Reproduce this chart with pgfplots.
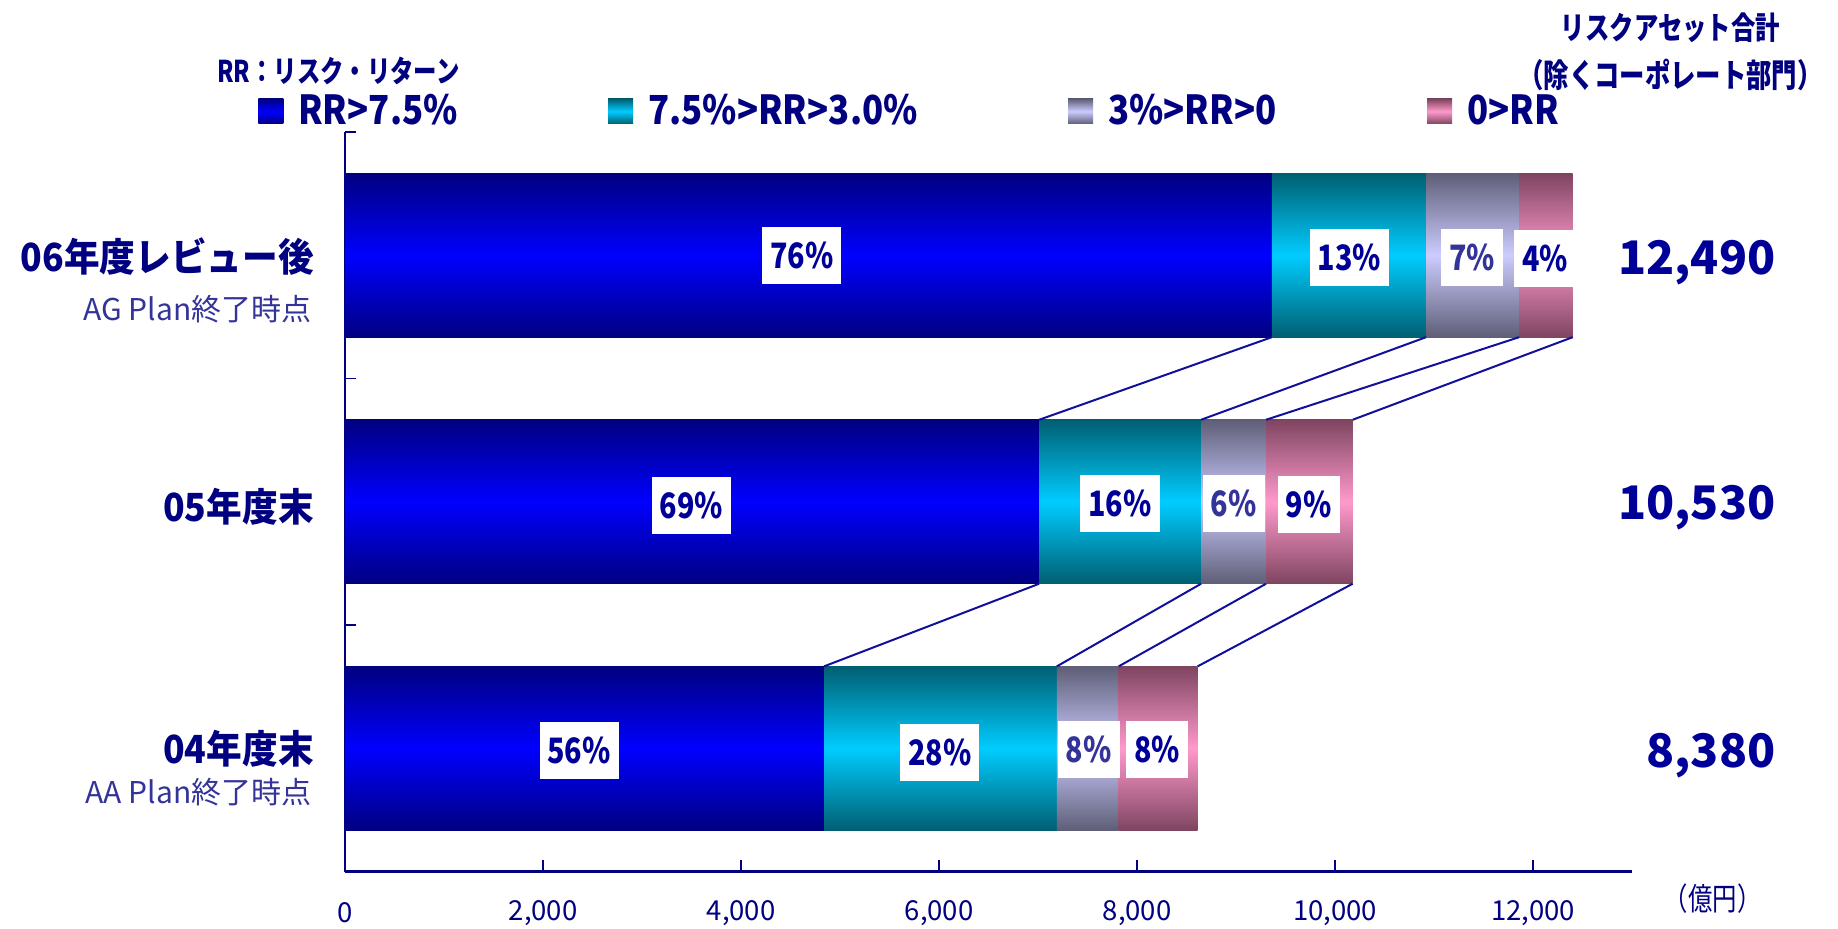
\documentclass[border=0pt]{standalone}
\usepackage{fontspec}
\setmainfont{Noto Sans CJK JP}
\newfontfamily\condf{Noto Sans CJK JP}[FakeStretch=0.78]
\newfontfamily\pctf{Noto Sans CJK JP}[FakeStretch=0.82]
\newfontfamily\legf{Noto Sans CJK JP}[FakeStretch=0.87]
\newfontfamily\catf{Noto Sans CJK JP}[FakeStretch=0.92]
\usepackage{pgfplots}
\pgfplotsset{compat=1.18}
\definecolor{navyc}{HTML}{000080}
\definecolor{txtc}{HTML}{000099}
\definecolor{subc}{HTML}{333399}
\definecolor{linec}{HTML}{10109A}
\definecolor{cAd}{HTML}{000080}\definecolor{cAm}{HTML}{0000FF}
\definecolor{cBd}{HTML}{005F72}\definecolor{cBm}{HTML}{00CCFF}
\definecolor{cCd}{HTML}{5E5E78}\definecolor{cCm}{HTML}{CCCCFF}
\definecolor{cDd}{HTML}{7E4560}\definecolor{cDm}{HTML}{FF99CC}
\pgfplotsset{
  pct/.style={only marks, mark=text, text mark as node=true,
    text mark style={draw=none, fill=white, text=#1, anchor=center,
      font=\pctf\bfseries\fontsize{14}{14}\selectfont,
      inner xsep=3.2pt, inner ysep=6.2pt, text height=10.3pt, text depth=0pt}},
  pct/.default=txtc,
  barA/.style={top color=cAd, bottom color=cAd, middle color=cAm, draw=none},
  barB/.style={top color=cBd, bottom color=cBd, middle color=cBm, draw=none},
  barC/.style={top color=cCd, bottom color=cCd, middle color=cCm, draw=none},
  barD/.style={top color=cDd, bottom color=cDd, middle color=cDm, draw=none},
  geom/.style={scale only axis, width=514.8pt, height=295.9pt,
    at={(138.04pt,22.69pt)}, anchor=south west,
    xmin=0, xmax=13000, ymin=-0.5, ymax=2.5}
}
\begin{document}
\begin{tikzpicture}
\path[use as bounding box] (0,0) rectangle (735.2pt,371.35pt);
\begin{axis}[geom,
  axis x line*=bottom, axis y line*=left,
  axis line style={navyc},
  x axis line style={line width=1.3pt},
  y axis line style={line width=0.6pt},
  xtick={0,2000,4000,6000,8000,10000,12000},
  ytick={0.5,1.5,2.5}, yticklabels={},
  scaled x ticks=false,
  /pgf/number format/1000 sep={,},
  /pgf/number format/assume math mode=true,
  xticklabel style={font=\fontsize{11}{13}\selectfont, text=navyc, anchor=center, yshift=-16.6pt},
  tick align=inside, major tick length=4.5pt,
  tick style={navyc, line width=0.6pt},
  legend columns=4,
  legend style={at={(-0.0678,1.0277)}, anchor=west, draw=none, fill=none,
    inner sep=0pt, text=navyc, font=\legf\bfseries\fontsize{16}{18}\selectfont,
    nodes={inner sep=0pt},
    /tikz/every odd column/.append style={column sep=6pt},
    /tikz/every even column/.append style={column sep=60.2pt}},
  legend image code/.code={\path[#1] (0pt,-5pt) rectangle (10pt,5pt);},
]
% series RR>7.5%
\addplot[barA] coordinates {(0,1.6675) (9361,1.6675) (9361,2.3325) (0,2.3325)};
\addplot[barA, forget plot] coordinates {(0,0.6675) (7010,0.6675) (7010,1.3325) (0,1.3325)};
\addplot[barA, forget plot] coordinates {(0,-0.3325) (4838,-0.3325) (4838,0.3325) (0,0.3325)};
% series 7.5%>RR>3.0%
\addplot[barB] coordinates {(9361,1.6675) (10919,1.6675) (10919,2.3325) (9361,2.3325)};
\addplot[barB, forget plot] coordinates {(7010,0.6675) (8646,0.6675) (8646,1.3325) (7010,1.3325)};
\addplot[barB, forget plot] coordinates {(4838,-0.3325) (7189,-0.3325) (7189,0.3325) (4838,0.3325)};
% series 3%>RR>0
\addplot[barC] coordinates {(10919,1.6675) (11859,1.6675) (11859,2.3325) (10919,2.3325)};
\addplot[barC, forget plot] coordinates {(8646,0.6675) (9302,0.6675) (9302,1.3325) (8646,1.3325)};
\addplot[barC, forget plot] coordinates {(7189,-0.3325) (7814,-0.3325) (7814,0.3325) (7189,0.3325)};
% series 0>RR
\addplot[barD] coordinates {(11859,1.6675) (12400,1.6675) (12400,2.3325) (11859,2.3325)};
\addplot[barD, forget plot] coordinates {(9302,0.6675) (10177,0.6675) (10177,1.3325) (9302,1.3325)};
\addplot[barD, forget plot] coordinates {(7814,-0.3325) (8611,-0.3325) (8611,0.3325) (7814,0.3325)};
\legend{RR>7.5\%, 7.5\%>RR>3.0\%, 3\%>RR>0, 0>RR}
\end{axis}
\begin{axis}[geom, hide axis, clip=false]
% connector lines
\addplot[linec, line width=0.8pt] coordinates {(9361,1.6675) (7010,1.3325)};
\addplot[linec, line width=0.8pt] coordinates {(10919,1.6675) (8646,1.3325)};
\addplot[linec, line width=0.8pt] coordinates {(11859,1.6675) (9302,1.3325)};
\addplot[linec, line width=0.8pt] coordinates {(12400,1.6675) (10177,1.3325)};
\addplot[linec, line width=0.8pt] coordinates {(7010,0.6675) (4838,0.3325)};
\addplot[linec, line width=0.8pt] coordinates {(8646,0.6675) (7189,0.3325)};
\addplot[linec, line width=0.8pt] coordinates {(9302,0.6675) (7814,0.3325)};
\addplot[linec, line width=0.8pt] coordinates {(10177,0.6675) (8611,0.3325)};
% percentage labels
\addplot[pct, text mark={76\%}] coordinates {(4613,2.0)};
\addplot[pct, text mark={13\%}] coordinates {(10143,1.99)};
\addplot[pct=subc, text mark={7\%}] coordinates {(11386,1.99)};
\addplot[pct, text mark={4\%}] coordinates {(12120,1.987)};
\addplot[pct, text mark={69\%}] coordinates {(3500,0.986)};
\addplot[pct, text mark={16\%}] coordinates {(7828,0.993)};
\addplot[pct=subc, text mark={6\%}] coordinates {(8977,0.993)};
\addplot[pct, text mark={9\%}] coordinates {(9733,0.99)};
\addplot[pct, text mark={56\%}] coordinates {(2364,-0.0075)};
\addplot[pct, text mark={28\%}] coordinates {(6006,-0.016)};
\addplot[pct=subc, text mark={8\%}] coordinates {(7511,-0.004)};
\addplot[pct, text mark={8\%}] coordinates {(8201,-0.004)};
\end{axis}
\begin{scope}[x=0.46888pt, y=-0.46888pt, shift={(0pt,371.35pt)}]
\node[anchor=west, text=navyc, font=\condf\bfseries\fontsize{12}{14}\selectfont, inner sep=0pt] at (185,60.5) {RR：リスク・リターン};
\node[text=navyc, font=\condf\bfseries\fontsize{12.5}{14}\selectfont, inner sep=0pt] at (1425,23.5) {リスクアセット合計};
\node[text=navyc, font=\condf\bfseries\fontsize{13}{14}\selectfont, inner sep=0pt] at (1425,64) {（除くコーポレート部門）};
\node[text=navyc, font=\condf\fontsize{12.5}{14}\selectfont, inner sep=0pt] at (1461,767) {（億円）};
\node[anchor=east, text=navyc, font=\catf\bfseries\fontsize{15.5}{18}\selectfont, inner sep=0pt] at (268,219) {06年度レビュー後};
\node[anchor=east, text=subc, font=\fontsize{12}{14}\selectfont, inner sep=0pt] at (266,264) {AG Plan終了時点};
\node[anchor=east, text=navyc, font=\catf\bfseries\fontsize{15.5}{18}\selectfont, inner sep=0pt] at (268,432) {05年度末};
\node[anchor=east, text=navyc, font=\catf\bfseries\fontsize{15.5}{18}\selectfont, inner sep=0pt] at (268,639) {04年度末};
\node[anchor=east, text=subc, font=\fontsize{12}{14}\selectfont, inner sep=0pt] at (266,676) {AA Plan終了時点};
\node[anchor=east, text=txtc, font=\bfseries\fontsize{18.5}{21}\selectfont, inner sep=0pt] at (1515,224) {12,490};
\node[anchor=east, text=txtc, font=\bfseries\fontsize{18.5}{21}\selectfont, inner sep=0pt] at (1515,433) {10,530};
\node[anchor=east, text=txtc, font=\bfseries\fontsize{18.5}{21}\selectfont, inner sep=0pt] at (1515,645) {8,380};
\end{scope}
\end{tikzpicture}
\end{document}
